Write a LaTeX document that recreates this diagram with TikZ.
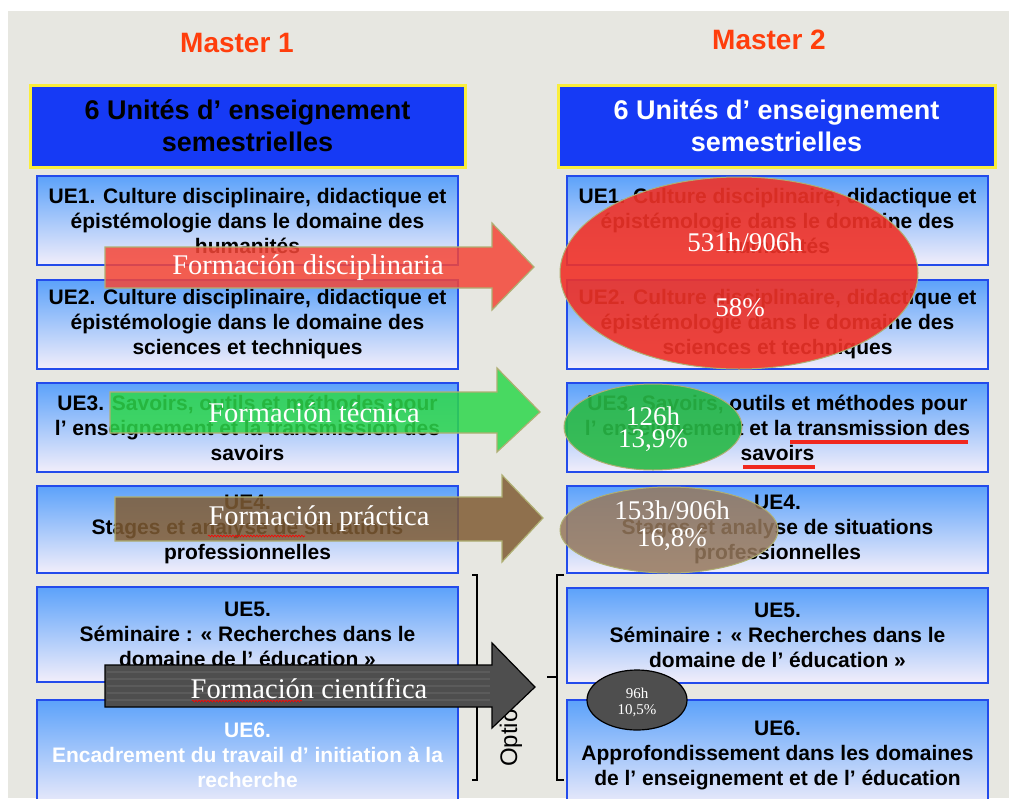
\documentclass[tikz,border=0pt]{standalone}
\usepackage{fontspec}
\setmainfont{Liberation Serif}
\newfontfamily\arialf{Liberation Sans}
\usetikzlibrary{decorations.pathmorphing}
\definecolor{bgc}{RGB}{231,231,225}
\definecolor{mred}{RGB}{255,62,12}
\definecolor{hblue}{RGB}{22,58,245}
\definecolor{hyel}{RGB}{250,238,60}
\definecolor{uetop}{RGB}{92,162,250}
\definecolor{uemid}{RGB}{145,195,250}
\definecolor{uebot}{RGB}{242,238,250}
\definecolor{ueline}{RGB}{35,75,235}
\definecolor{ared}{RGB}{245,70,55}
\definecolor{agreen}{RGB}{45,215,75}
\definecolor{abrown}{RGB}{128,92,52}
\definecolor{agray}{RGB}{78,78,78}
\definecolor{aedge}{RGB}{175,175,115}
\definecolor{ered}{RGB}{240,50,40}
\definecolor{egreen}{RGB}{40,185,70}
\definecolor{ebrown}{RGB}{150,120,92}
\definecolor{ulred}{RGB}{240,40,30}
\tikzset{
  uebox/.style={draw=ueline, line width=2.5pt, top color=uetop, middle color=uemid, bottom color=uebot,
    minimum width=421pt, inner sep=0pt, align=center,
    font=\arialf\bfseries\fontsize{21}{25}\selectfont},
  hbox/.style={draw=hyel, line width=3pt, fill=hblue, minimum width=435pt,
    minimum height=82pt, inner sep=0pt, align=center,
    font=\arialf\bfseries\fontsize{27}{32}\selectfont},
  mlabel/.style={text=mred, inner sep=0pt, font=\arialf\bfseries\fontsize{28}{32}\selectfont},
  alabel/.style={text=white, inner sep=0pt, font=\fontsize{28.5}{32}\selectfont},
  elabel/.style={text=white, inner sep=0pt, font=\fontsize{27}{30}\selectfont},
  slabel/.style={text=white, inner sep=0pt, font=\fontsize{15}{17}\selectfont},
  bigarrow/.style={draw=aedge, line width=1.2pt, fill opacity=0.85},
  ellip/.style={draw=aedge, line width=1pt, fill opacity=0.9},
  brack/.style={draw=black, line width=1.6pt},
  ulin/.style={draw=ulred, line width=3.5pt},
  squig/.style={draw=red, line width=0.6pt, decorate,
    decoration={snake, amplitude=0.9pt, segment length=3pt}}
}
\begin{document}
\begin{tikzpicture}[x=1pt, y=-1pt]
\useasboundingbox (0,0) rectangle (1009,798);
\fill[white] (0,0) rectangle (1009,798);
\fill[bgc] (8,11) rectangle (1009,798);

% titles
\node[mlabel] (m1) at (237,43) {Master 1};
\node[mlabel] (m2) at (769,40) {Master 2};

% headers
\node[hbox, text=black] (h1) at (247.5,126) {6 Unités d’ enseignement\\semestrielles};
\node[hbox, text=white, minimum width=437pt] (h2) at (776.5,126) {6 Unités d’ enseignement\\semestrielles};

% left column
\node[uebox, minimum height=89pt] (l1) at (247.5,220.5) {UE1. Culture disciplinaire, didactique et\\épistémologie dans le domaine des\\humanités};
\node[uebox, minimum height=89pt] (l2) at (247.5,324.5) {UE2. Culture disciplinaire, didactique et\\épistémologie dans le domaine des\\sciences et techniques};
\node[uebox, minimum height=89pt] (l3) at (247.5,427.5) {UE3. Savoirs, outils et méthodes pour\\l’ enseignement et la transmission des\\savoirs};
\node[uebox, minimum height=87pt] (l4) at (247.5,529.5) {UE4.\\Stages et analyse de situations\\professionnelles};
\node[uebox, minimum height=95pt] (l5) at (247.5,634.5) {UE5.\\Séminaire : « Recherches dans le\\domaine de l’ éducation »};
\node[uebox, minimum height=110pt, text=white] (l6) at (247.5,755) {UE6.\\Encadrement du travail d’ initiation à  la\\recherche};

% right column
\node[uebox, minimum height=89pt] (r1) at (777.5,220.5) {UE1. Culture disciplinaire, didactique et\\épistémologie dans le domaine des\\humanités};
\node[uebox, minimum height=89pt] (r2) at (777.5,324.5) {UE2. Culture disciplinaire, didactique et\\épistémologie dans le domaine des\\sciences et techniques};
\node[uebox, minimum height=89pt] (r3) at (777.5,427.5) {UE3. Savoirs, outils et méthodes pour\\l’ enseignement et la transmission des\\savoirs};
\node[uebox, minimum height=87pt] (r4) at (777.5,529.5) {UE4.\\Stages et analyse de situations\\professionnelles};
\node[uebox, minimum height=95pt] (r5) at (777.5,635.5) {UE5.\\Séminaire : « Recherches dans le\\domaine de l’ éducation »};
\node[uebox, minimum height=110pt] (r6) at (777.5,755) {UE6.\\Approfondissement dans les domaines\\de l’ enseignement et de l’ éducation};

% brackets
\draw[brack] (472,575) -- (477,575) -- (477,780) -- (472,780);
\draw[brack] (564,575) -- (557,575) -- (557,780) -- (564,780);
\draw[brack] (557,677) -- (547,677);
\node[rotate=90, anchor=west, inner sep=0pt, font=\arialf\fontsize{24}{26}\selectfont] (opt) at (511,767) {Optio};

% arrows
\filldraw[bigarrow, fill=ared] (105,247) -- (492,247) -- (492,223) -- (534,267) -- (492,310) -- (492,288) -- (105,288) -- cycle;
\filldraw[bigarrow, fill=agreen] (110,392) -- (497,392) -- (497,368) -- (540,412) -- (497,452) -- (497,433) -- (110,433) -- cycle;
\filldraw[bigarrow, fill=abrown] (115,497) -- (502,497) -- (502,475) -- (543,518) -- (502,562) -- (502,541) -- (115,541) -- cycle;
\filldraw[draw=black, line width=1.2pt, fill=agray] (105,665) -- (492,665) -- (492,643) -- (535,687) -- (492,728) -- (492,707) -- (105,707) -- cycle;
\foreach \yy in {672,679,686,693,700} {\draw[white, opacity=0.08, line width=1.5pt] (107,\yy) -- (490,\yy);}

\node[alabel] (fd) at (308,268) {Formación disciplinaria};
\node[alabel] (ft) at (314,413) {Formación técnica};
\node[alabel] (fp) at (319,519) {Formación práctica};
\node[alabel] (fc) at (309,689) {Formación científica};
\draw[squig] (208,536) -- (305,536);
\draw[squig] (192,701) -- (302,701);

% ellipses
\filldraw[ellip, fill=ered] (739,273) ellipse [x radius=179pt, y radius=96pt];
\filldraw[ellip, fill=egreen] (653,427) ellipse [x radius=89pt, y radius=43pt];
\filldraw[ellip, fill=ebrown, fill opacity=0.85] (669,530) ellipse [x radius=109pt, y radius=43pt];
\filldraw[draw=black, line width=1.2pt, fill=agray] (637,700) ellipse [x radius=50pt, y radius=30pt];

\node[elabel] (e1a) at (745,242) {531h/906h};
\node[elabel] (e1b) at (740,308) {58\%};
\node[elabel] (e2a) at (653,416) {126h};
\node[elabel] (e2b) at (653,441) {13,9\%};
\node[elabel] (e3a) at (672,510) {153h/906h};
\node[elabel] (e3b) at (672,540) {16,8\%};
\node[slabel] (e4a) at (637,693) {96h};
\node[slabel] (e4b) at (637,711) {10,5\%};

% underlines
\draw[ulin] (790,442) -- (968,442);
\draw[ulin] (743,467) -- (815,467);
\end{tikzpicture}
\end{document}
